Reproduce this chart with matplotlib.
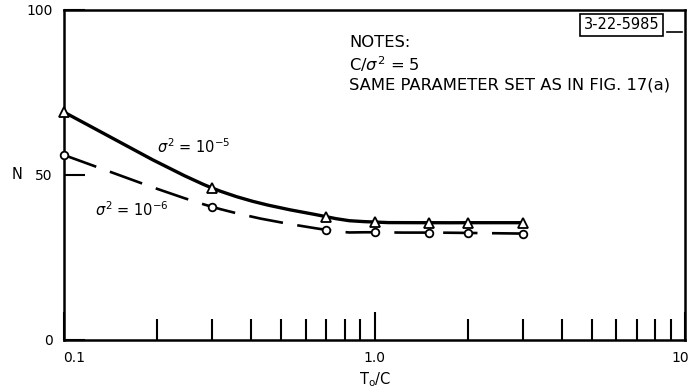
import numpy as np
import matplotlib.pyplot as plt
from matplotlib.path import Path
from matplotlib.patches import PathPatch
from matplotlib.ticker import FixedLocator, NullFormatter
from matplotlib.transforms import ScaledTranslation

plt.rcParams['font.family'] = ['DejaVu Sans']

# N versus T0/C for two noise variances
t_ratio = [0.1, 0.3, 0.7, 1.0, 1.5, 2.0, 3.0]
n_sigma5 = [69, 46, 37.3, 35.7, 35.5, 35.5, 35.5]
n_sigma6 = [56, 40.3, 33.3, 32.6, 32.5, 32.4, 32.2]

x_major = [0.1, 1.0, 10]
x_major_labels = ["0.1", "1.0", "10"]
x_minor = [0.2, 0.3, 0.4, 0.5, 0.6, 0.7, 0.8, 0.9, 2, 3, 4, 5, 6, 7, 8, 9]
y_major = [0, 50, 100]


def smooth_path(ax, xs, ys):
    # Catmull-Rom through the points, drawn as cubic Beziers in display space
    pts = ax.transData.transform(np.column_stack([xs, ys]))
    verts = [pts[0]]
    codes = [Path.MOVETO]
    n = len(pts)
    for i in range(n - 1):
        p0 = pts[max(i - 1, 0)]
        p1 = pts[i]
        p2 = pts[i + 1]
        p3 = pts[min(i + 2, n - 1)]
        c1 = p1 + (p2 - p0) / 6.0
        c2 = p2 - (p3 - p1) / 6.0
        verts += [c1, c2, p2]
        codes += [Path.CURVE4] * 3
    return Path(verts, codes)


fig = plt.figure(figsize=(6.88, 3.92), dpi=100)
ax = fig.add_axes([0.093, 0.133, 0.903, 0.842])

ax.set_xscale("log")
ax.set_xlim(0.1, 10)
ax.set_ylim(0, 100)

ax.add_patch(PathPatch(smooth_path(ax, t_ratio, n_sigma5), fc="none",
                       ec="black", lw=2.4, transform=None, zorder=2))
ax.add_patch(PathPatch(smooth_path(ax, t_ratio, n_sigma6), fc="none",
                       ec="black", lw=1.9, ls=(0, (13, 5.5)),
                       transform=None, zorder=2))

ax.plot(t_ratio, n_sigma5, ls="none", marker="^", ms=7.5, mfc="white",
        mec="black", mew=1.3, clip_on=False, zorder=3)
ax.plot(t_ratio, n_sigma6, ls="none", marker="o", ms=5.5, mfc="white",
        mec="black", mew=1.3, clip_on=False, zorder=3)

ax.xaxis.set_major_locator(FixedLocator(x_major))
ax.set_xticklabels(x_major_labels)
ax.xaxis.set_minor_locator(FixedLocator(x_minor))
ax.xaxis.set_minor_formatter(NullFormatter())
ax.tick_params(axis="x", which="major", direction="in", length=20,
               width=1.5, pad=8, labelsize=10)
ax.tick_params(axis="x", which="minor", direction="in", length=15, width=1.5)

labels = ax.get_xticklabels()
labels[0].set_transform(labels[0].get_transform()
                        + ScaledTranslation(0.10, 0, fig.dpi_scale_trans))
labels[2].set_transform(labels[2].get_transform()
                        + ScaledTranslation(-0.05, 0, fig.dpi_scale_trans))

ax.set_yticks(y_major)
ax.tick_params(axis="y", which="major", direction="in", length=15,
               width=1.5, pad=8, labelsize=10)

for side in ax.spines.values():
    side.set_linewidth(1.8)

ax.set_xlabel("T$_\\mathregular{o}$/C", fontsize=10.5, labelpad=4)
ax.set_ylabel("N", fontsize=10.5, rotation=0, va="center")
ax.yaxis.set_label_coords(-0.075, 0.5)

ax.text(0.2, 58.5, "$\\sigma^2$ = 10$^{-5}$", fontsize=10.5, va="center")
ax.text(0.126, 39.4, "$\\sigma^2$ = 10$^{-6}$", fontsize=10.5, va="center")

notes = "NOTES:\nC/$\\sigma^2$ = 5\nSAME PARAMETER SET AS IN FIG. 17(a)"
ax.text(0.459, 0.925, notes, transform=ax.transAxes, fontsize=11.8,
        va="top", ha="left", linespacing=1.3)

ax.text(0.897, 0.955, "3-22-5985", transform=ax.transAxes, fontsize=10.5,
        ha="center", va="center",
        bbox=dict(boxstyle="square,pad=0.25", fc="white", ec="black", lw=1.2))
ax.plot([0.97, 0.995], [0.933, 0.933], transform=ax.transAxes,
        color="black", lw=1.2)

fig.savefig("out.png", dpi=100)
